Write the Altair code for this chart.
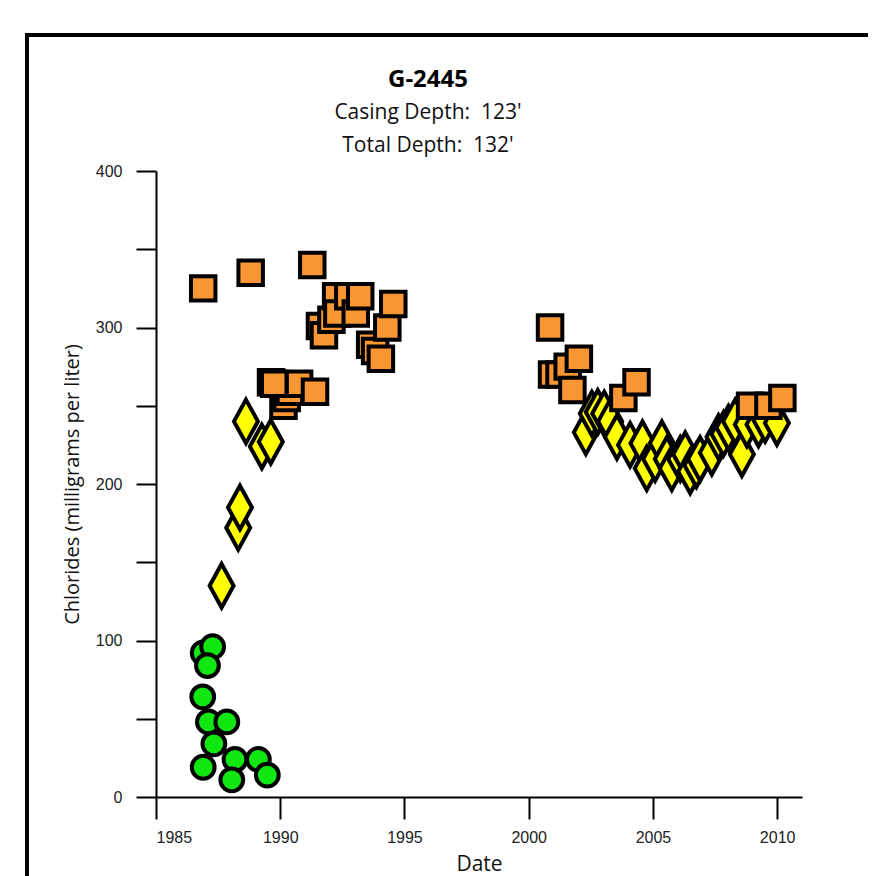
import altair as alt
import pandas as pd

# Green circles
circle_year = [1986.90, 1987.28, 1987.07, 1986.88, 1987.11, 1987.85, 1987.33, 1986.90, 1988.18, 1988.05, 1989.12, 1989.48]
circle_val = [92, 96, 84, 64, 48, 48, 34, 19, 24, 11, 24, 14]

# Yellow diamonds
diamond_year = [1987.64, 1988.31, 1988.38, 1988.62, 1989.26, 1989.62,
                2002.30, 2002.54, 2002.78, 2003.04, 2003.28, 2003.55, 2004.08, 2004.58,
                2004.75, 2005.09, 2005.36, 2005.56, 2005.76, 2006.10, 2006.30, 2006.50,
                2006.75, 2006.90, 2007.37, 2007.64, 2007.84, 2008.04, 2008.31, 2008.58,
                2008.78, 2009.25, 2009.52, 2009.99]
diamond_val = [135, 172, 185, 240, 224, 227,
               233, 245, 246, 245, 240, 230, 225, 226,
               210, 216, 226, 216, 210, 216, 219, 208,
               212, 216, 220, 230, 232, 236, 240, 219,
               238, 238, 241, 239]

# Orange squares
square_year = [1986.90, 1988.81, 1991.29,
               1989.63, 1990.13, 1990.26, 1990.39, 1989.76, 1990.76, 1991.40,
               1991.60, 1991.76, 1992.06, 1992.25, 1992.30, 1992.74, 1993.04, 1993.22,
               1993.62, 1993.82, 1994.05, 1994.31, 1994.55,
               2000.86, 2000.94, 2001.24, 2001.57, 2002.02, 2001.76, 2003.81, 2004.34,
               2008.91, 2009.65, 2010.21]
square_val = [325, 335, 340,
              265, 250, 255, 259, 264, 264, 259,
              301, 295, 305, 320, 309, 320, 309, 320,
              289, 285, 280, 300, 315,
              300, 270, 270, 275, 280, 260, 255, 265,
              250, 250, 255]

x_ticks = [1985, 1990, 1995, 2000, 2005, 2010]
y_ticks = [0, 50, 100, 150, 200, 250, 300, 350, 400]

df_c = pd.DataFrame({"Date": circle_year, "Chlorides": circle_val})
df_d = pd.DataFrame({"Date": diamond_year, "Chlorides": diamond_val})
df_s = pd.DataFrame({"Date": square_year, "Chlorides": square_val})

x_scale = alt.Scale(domain=[1985, 2011], nice=False, zero=False)
y_scale = alt.Scale(domain=[0, 400], nice=False)

x_axis = alt.Axis(values=x_ticks, format="d", title="Date", tickSize=22, tickWidth=2,
                  tickColor="black", domainColor="black", domainWidth=2,
                  labelFont="Liberation Sans", labelFontSize=16, labelColor="#222",
                  labelPadding=10, titleFont="Open Sans", titleFontSize=21,
                  titleFontWeight="normal", titleColor="#111", titlePadding=8, grid=False)
y_axis = alt.Axis(values=y_ticks, labelExpr="datum.value % 100 == 0 ? datum.label : ''",
                  title="Chlorides (milligrams per liter)", tickSize=20, tickWidth=2,
                  tickColor="black", domainColor="black", domainWidth=2,
                  labelFont="Liberation Sans", labelFontSize=16, labelColor="#222",
                  labelPadding=14, titleFont="Open Sans", titleFontSize=20,
                  titleFontWeight="normal", titleColor="#111", titlePadding=13, grid=False)

enc = dict(
    x=alt.X("Date:Q", scale=x_scale, axis=x_axis),
    y=alt.Y("Chlorides:Q", scale=y_scale, axis=y_axis),
)

circles = alt.Chart(df_c).mark_point(
    shape="circle", size=520, filled=True, fill="#10E610", stroke="black",
    strokeWidth=4, opacity=1).encode(**enc)

diamonds = alt.Chart(df_d).mark_point(
    shape="M0,-1L0.55,0L0,1L-0.55,0Z", size=1900, filled=True, fill="#FFFF00",
    stroke="black", strokeWidth=4, opacity=1).encode(**enc)

squares = alt.Chart(df_s).mark_point(
    shape="square", size=600, filled=True, fill="#F79632", stroke="black",
    strokeWidth=4, opacity=1).encode(**enc)

border = alt.Chart(pd.DataFrame({"b": [0]})).mark_rect(
    filled=False, stroke="black", strokeWidth=4).encode(
    x=alt.value(-129), x2=alt.value(900), y=alt.value(-136), y2=alt.value(900))

chart = alt.layer(border, circles, diamonds, squares).properties(
    width=646, height=626,
    background="white",
    title=alt.TitleParams(
        text="G-2445",
        subtitle=["Casing Depth:\u00a0 123'", "Total Depth:\u00a0 132'"],
        font="Open Sans", fontSize=24, fontWeight="bold", color="black",
        subtitleFont="Open Sans", subtitleFontSize=21, subtitleColor="#111",
        subtitleLineHeight=33, subtitlePadding=10,
        anchor="middle", dx=-51, offset=-123),
    autosize=alt.AutoSizeParams(type="none"),
    padding={"left": 148, "top": 163, "right": 66, "bottom": 79},
).configure_view(strokeWidth=0)

chart.save("out.html", embed_options={"renderer": "svg", "actions": False})
